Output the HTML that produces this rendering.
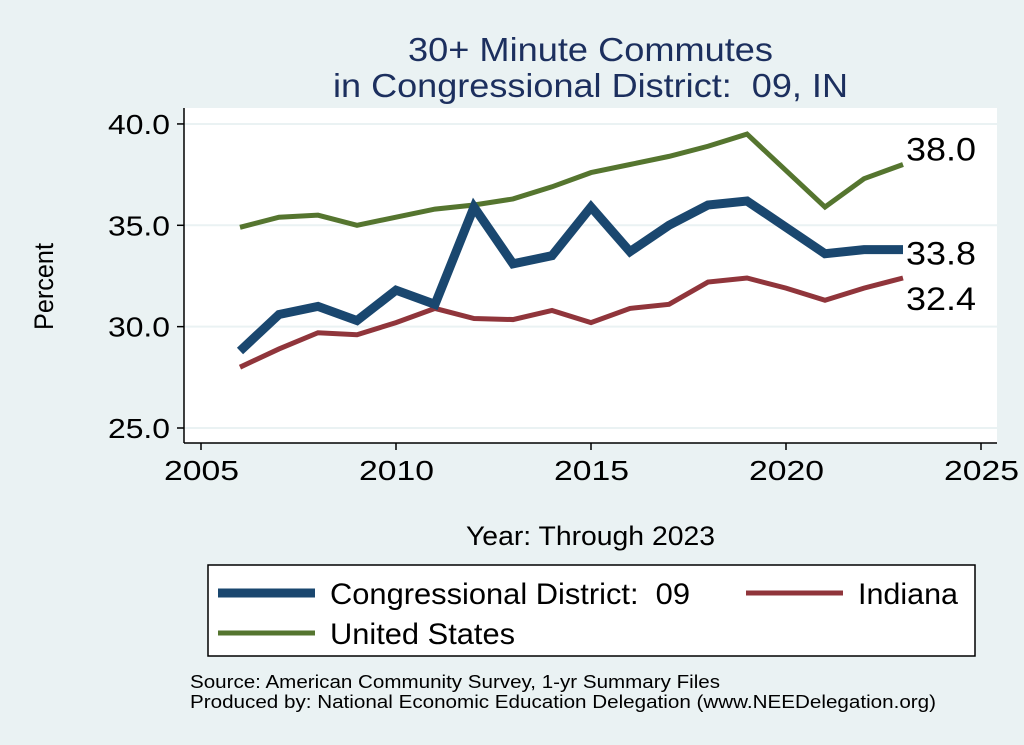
<!DOCTYPE html>
<html><head><meta charset="utf-8"><style>
body{margin:0;background:#eaf2f3;font-family:"Liberation Sans",sans-serif}
svg{display:block}
text{white-space:pre}
</style></head><body>
<svg id="c" width="1024" height="745" xml:space="preserve">
<rect x="0" y="0" width="1024" height="745" fill="#eaf2f3"/>
<rect x="184" y="108" width="813" height="335" fill="#fff"/>
<text x="408" y="61" font-size="33" fill="#1c2f5e" textLength="365" lengthAdjust="spacingAndGlyphs">30+ Minute Commutes</text>
<text x="333" y="97" font-size="33" fill="#1c2f5e" textLength="515" lengthAdjust="spacingAndGlyphs">in Congressional District:  09, IN</text>
<g id="grid"></g><g id="axes"></g><g id="series"></g>
<text transform="translate(53,330) rotate(-90)" font-size="27" textLength="87" lengthAdjust="spacingAndGlyphs">Percent</text>
<text x="466" y="545" font-size="27" textLength="249" lengthAdjust="spacingAndGlyphs">Year: Through 2023</text>
<rect x="208" y="565" width="767" height="91" fill="#fff" stroke="#000" stroke-width="1.5"/>
<g><line x1="218" y1="593" x2="315" y2="593" stroke="#1a476f" stroke-width="9"/><text x="330" y="604" font-size="30" textLength="360" lengthAdjust="spacingAndGlyphs">Congressional District:  09</text></g>
<g><line x1="746" y1="593" x2="843" y2="593" stroke="#90353b" stroke-width="5"/><text x="858" y="604" font-size="30" textLength="100" lengthAdjust="spacingAndGlyphs">Indiana</text></g>
<g><line x1="218" y1="633" x2="315" y2="633" stroke="#55752f" stroke-width="5"/><text x="330" y="644" font-size="30" textLength="185" lengthAdjust="spacingAndGlyphs">United States</text></g>
<text x="190" y="688" font-size="18" textLength="530" lengthAdjust="spacingAndGlyphs">Source: American Community Survey, 1-yr Summary Files</text>
<text x="190" y="708" font-size="18" textLength="746" lengthAdjust="spacingAndGlyphs">Produced by: National Economic Education Delegation (www.NEEDelegation.org)</text>
</svg>
<script>
const years=[2006,2007,2008,2009,2010,2011,2012,2013,2014,2015,2016,2017,2018,2019,2020,2021,2022,2023];
const district=[28.8,30.6,31.0,30.3,31.8,31.1,35.9,33.1,33.5,35.9,33.7,35.0,36.0,36.2,34.9,33.6,33.8,33.8];
const indiana=[28.0,28.9,29.7,29.6,30.2,30.9,30.4,30.35,30.8,30.2,30.9,31.1,32.2,32.4,31.9,31.3,31.9,32.4];
const us=[34.9,35.4,35.5,35.0,35.4,35.8,36.0,36.3,36.9,37.6,38.0,38.4,38.9,39.5,37.7,35.9,37.3,38.0];
const yTicks=[25,30,35,40];
const xTicks=[2005,2010,2015,2020,2025];
const NS='http://www.w3.org/2000/svg';
const X=v=>201+(v-2005)*39;
const Y=v=>428-(v-25)*20.27;
function mk(t,a,p){const e=document.createElementNS(NS,t);for(const k in a)e.setAttribute(k,a[k]);p.appendChild(e);return e;}
const g=document.getElementById('grid'),ax=document.getElementById('axes'),s=document.getElementById('series');
yTicks.forEach(v=>{
 const l=mk('line',{x1:184,x2:997,y1:Y(v),y2:Y(v),stroke:'#eaf2f3','stroke-width':2},g);
 
 
 mk('line',{x1:177,x2:184,y1:Y(v),y2:Y(v),stroke:'#000','stroke-width':1.5},ax);
 const t=mk('text',{x:108,y:Y(v)+10,'font-size':28,textLength:62,lengthAdjust:'spacingAndGlyphs'},ax);t.textContent=v.toFixed(1);
 
 
});
xTicks.forEach(v=>{
 mk('line',{x1:X(v),x2:X(v),y1:443,y2:450,stroke:'#000','stroke-width':1.5},ax);
 const t=mk('text',{x:X(v)-37,y:480,'font-size':28,textLength:75,lengthAdjust:'spacingAndGlyphs'},ax);t.textContent=v;
 
 
});
mk('line',{x1:184,x2:184,y1:108,y2:443,stroke:'#000','stroke-width':1.5},ax);
mk('line',{x1:184,x2:997,y1:443,y2:443,stroke:'#000','stroke-width':1.5},ax);
function line(d,c,w,n){
 const p=mk('polyline',{points:d.map((v,i)=>X(years[i])+','+Y(v)).join(' '),fill:'none',stroke:c,'stroke-width':w,'stroke-linejoin':'miter'},s);
 
 
 const last=d[d.length-1];
 const t=mk('text',{x:X(years[years.length-1])+3,y:0,'font-size':32,textLength:70,lengthAdjust:'spacingAndGlyphs'},s);
 t.textContent=last.toFixed(1);
 
 
 return t;
}
line(us,'#55752f',5,'us-line').setAttribute('y',Y(us[us.length-1])-4);
line(indiana,'#90353b',5,'indiana-line').setAttribute('y',Y(indiana[indiana.length-1])+32);
line(district,'#1a476f',9,'district-line').setAttribute('y',Y(district[district.length-1])+15);
</script>
</body></html>
